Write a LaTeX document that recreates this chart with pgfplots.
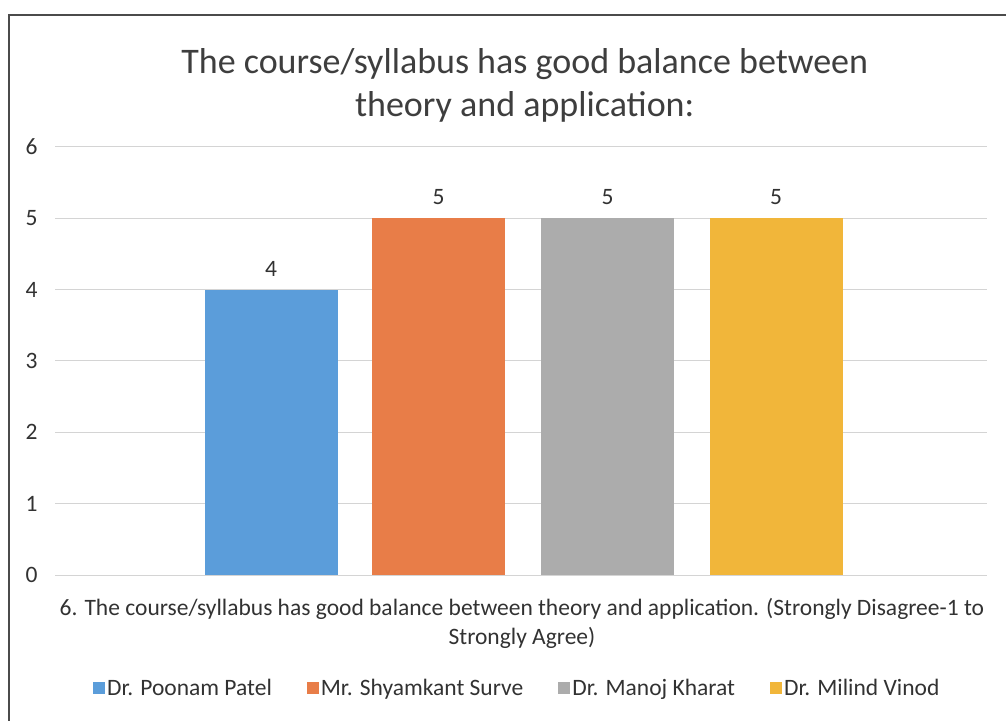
\documentclass[border=0pt]{standalone}
\usepackage{pgfplots}
\pgfplotsset{compat=1.18}
\usepackage{fontspec}
\setmainfont{Carlito}
\definecolor{cblue}{RGB}{91,157,218}
\definecolor{corange}{RGB}{232,125,72}
\definecolor{cgray}{RGB}{172,172,172}
\definecolor{cyellow}{RGB}{241,182,58}
\definecolor{ctext}{RGB}{62,62,62}
\definecolor{csmall}{RGB}{50,50,50}
\definecolor{cgrid}{RGB}{212,212,212}
\begin{document}
\begin{tikzpicture}
\useasboundingbox (0pt,0pt) rectangle (1006pt,720pt);
\draw[line width=1.6pt, color={rgb,255:red,75;green,75;blue,75}] (9pt,-20pt) -- (9pt,705pt) -- (1030pt,705pt);
\begin{axis}[
  at={(55pt,145pt)}, anchor=south west,
  scale only axis, width=932pt, height=428pt,
  xmin=0, xmax=932, ymin=0, ymax=6,
  ytick={0,1,2,3,4,5,6}, xtick=\empty,
  major tick length=0pt,
  axis line style={draw=none},
  ymajorgrids, grid style={cgrid, line width=1pt},
  tick label style={font=\fontsize{23.5}{28}\selectfont, text=csmall},
  yticklabel style={xshift=-14pt},
  /pgf/number format/assume math mode=true,
  title={The course/syllabus has good balance between\\theory and application:},
  title style={at={(axis description cs:0.504,1.131)}, anchor=center, align=center,
    font=\fontsize{36}{43}\selectfont, text=ctext},
  xlabel={6. The course/syllabus has good balance between theory and application. (Strongly Disagree-1 to\\Strongly Agree)},
  xlabel style={at={(axis description cs:0.501,-0.113)}, anchor=center, align=center,
    font=\fontsize{23.5}{29}\selectfont, text=csmall},
  bar width=133,
  nodes near coords,
  every node near coord/.append style={font=\fontsize{23.5}{28}\selectfont, text=csmall, anchor=south, yshift=10pt},
  legend columns=4,
  legend style={at={(axis description cs:0.496,-0.264)}, anchor=center, draw=none, fill=none,
    font=\fontsize{23.5}{28}\selectfont, text=csmall,
    /tikz/every even column/.append style={column sep=33pt}},
  legend image code/.code={\fill[#1] (0pt,-6pt) rectangle (12pt,6pt);},
]
\addplot[ybar, bar shift=0pt, fill=cblue, draw=none] coordinates {(216,4)};
\addlegendentry{Dr. Poonam Patel}
\addplot[ybar, bar shift=0pt, fill=corange, draw=none] coordinates {(383.5,5)};
\addlegendentry{Mr. Shyamkant Surve}
\addplot[ybar, bar shift=0pt, fill=cgray, draw=none] coordinates {(552.5,5)};
\addlegendentry{Dr. Manoj Kharat}
\addplot[ybar, bar shift=0pt, fill=cyellow, draw=none] coordinates {(721,5)};
\addlegendentry{Dr. Milind Vinod}
\end{axis}
\end{tikzpicture}
\end{document}
